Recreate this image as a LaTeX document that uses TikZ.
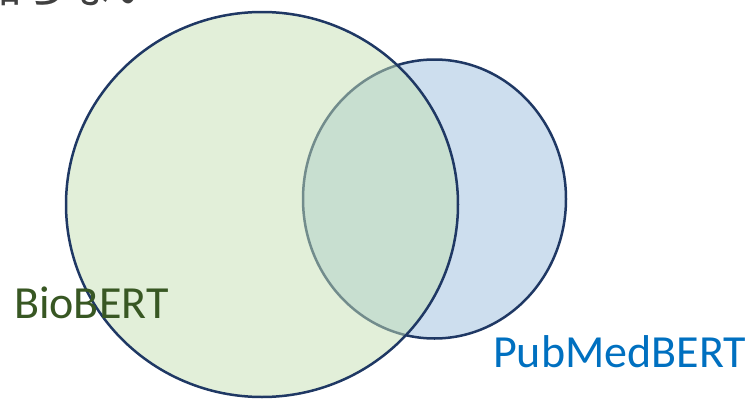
\documentclass[tikz,border=0pt]{standalone}
\usepackage{fontspec}
\setmainfont{Carlito}
\newfontfamily\jpfont{Noto Sans CJK JP}
\definecolor{navy}{RGB}{31,56,100}
\definecolor{greenfill}{RGB}{197,224,180}
\definecolor{bluefill}{RGB}{205,222,238}
\definecolor{biogreen}{RGB}{56,87,35}
\definecolor{pubblue}{RGB}{0,112,192}
\definecolor{headgray}{RGB}{64,64,64}
\tikzset{
  setline/.style={draw=navy, line width=2.5pt},
  setlabel/.style={inner sep=0pt, anchor=base west, font=\fontsize{46}{46}\selectfont},
}
\begin{document}
\begin{tikzpicture}[x=1pt, y=-1pt]
  \useasboundingbox (0,0) rectangle (756,399);
  \begin{scope}
    \clip (0,0) rectangle (756,399);
    % heading line, mostly above the frame
    \node[inner sep=0pt, anchor=base west, text=headgray,
          font=\jpfont\fontsize{45}{45}\selectfont] (head) at (-23,3) {知らない};
    % PubMedBERT set (drawn first, opaque)
    \path[setline, fill=bluefill] (434.5,199) ellipse [x radius=131.5, y radius=139.5];
    % BioBERT set, translucent over it
    \path[setline, fill=greenfill, fill opacity=0.5] (262,204.5) ellipse [x radius=196, y radius=192.5];
  \end{scope}
  \node[setlabel, text=biogreen] (bio) at (14,318) {BioBERT};
  \node[setlabel, text=pubblue] (pub) at (493,367) {PubMedBERT};
\end{tikzpicture}
\end{document}
